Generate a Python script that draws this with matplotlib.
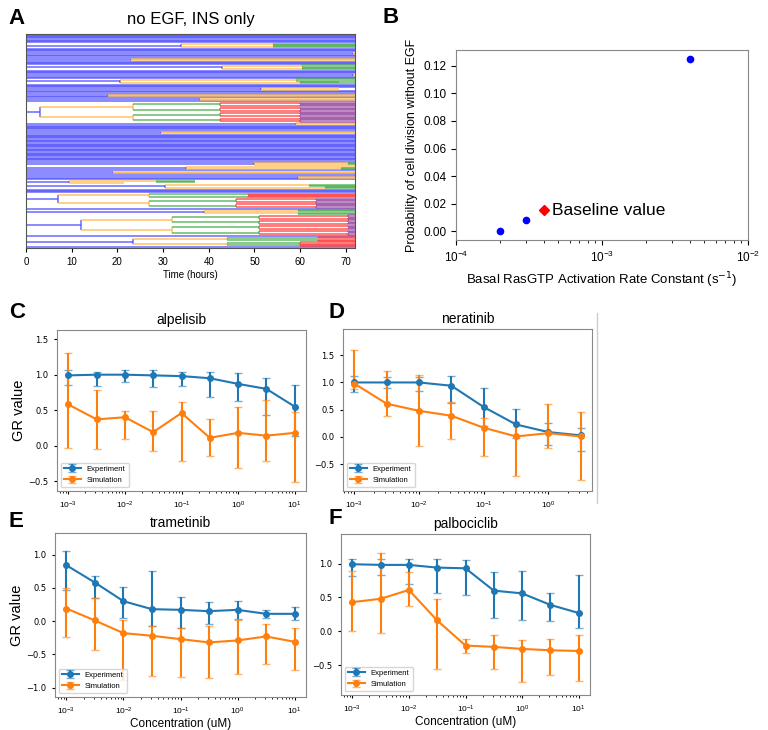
import numpy as np
import matplotlib
matplotlib.use('Agg')
import matplotlib.pyplot as plt
from matplotlib.collections import LineCollection
from matplotlib.lines import Line2D

plt.rcParams['font.family'] = ['Liberation Sans', 'DejaVu Sans']


def sym(t, child):
    # a division at time t into two identical daughter lineages
    return (t, child, child)


# ---- panel A: lineage trees (leaf = end time, tuple = (division time, daughter, daughter))
END = 72
lineages = [
    *[END] * 7,
    sym(34, sym(54, END)),
    END, END, END, sym(71.5, END), END, END, END,
    sym(23, END),
    END, END, END,
    sym(43, sym(60.5, END)),
    END, END, END, sym(71.5, END), END, END,
    (20.5, sym(59, END), (60, 68.5, END)),
    END, END, END, sym(51.5, 68.5), END, END, END,
    sym(18, END), END, sym(38, END), END,
    sym(3, sym(23.5, sym(42.5, sym(60, END)))),
    sym(59, END), *[END] * 5, sym(29.5, END), *[END] * 22,
    (50, sym(70.5, END), END),
    (35, END, sym(69, END)),
    END, sym(19, END), END, END, sym(59.5, END), END,
    (9.5, sym(28.5, 37), 21.5),
    (30.5, sym(62, END), sym(65.5, END)),
    END, END, END,
    (7, sym(27, sym(48.5, END)), sym(27, sym(46, sym(63.5, END)))),
    END,
    sym(39, sym(59.5, END)),
    sym(12, sym(32, sym(51, sym(70.5, END)))),
    END,
    (23.5, sym(44, sym(64, END)), sym(44, sym(60, END))),
    END,
]
gen_colors = ['#5050ff', '#ffb845', '#4cae4c', '#ff3c3c', '#9a4ea3']

# ---- panel B
rate = [2e-4, 3e-4, 4e-3]
prob = [0.0, 0.0077, 0.125]
base_rate = 4e-4
base_prob = 0.015

# ---- panels C-F
conc = [1e-3, 3.16e-3, 1e-2, 3.16e-2, 0.1, 0.316, 1.0, 3.16, 10.0]

alp_exp = [0.99, 1.00, 1.00, 0.99, 0.98, 0.95, 0.87, 0.80, 0.55]
alp_exp_lo = [0.86, 0.84, 0.89, 0.82, 0.84, 0.68, 0.63, 0.43, 0.13]
alp_exp_hi = [1.06, 1.04, 1.07, 1.07, 1.04, 1.04, 1.02, 0.96, 0.85]
alp_sim = [0.58, 0.37, 0.40, 0.19, 0.46, 0.11, 0.18, 0.14, 0.18]
alp_sim_lo = [-0.03, -0.05, 0.10, -0.08, -0.21, -0.14, -0.32, -0.22, -0.52]
alp_sim_hi = [1.31, 0.79, 0.49, 0.49, 0.62, 0.38, 0.54, 0.64, 0.47]

ner_exp = [1.00, 1.00, 1.00, 0.94, 0.55, 0.23, 0.09, 0.03]
ner_exp_lo = [0.82, 0.90, 0.85, 0.62, 0.20, -0.02, -0.15, -0.25]
ner_exp_hi = [1.12, 1.10, 1.10, 1.12, 0.90, 0.52, 0.26, 0.17]
ner_sim = [0.98, 0.61, 0.48, 0.39, 0.17, 0.01, 0.07, 0.01]
ner_sim_lo = [0.88, 0.38, -0.17, -0.03, -0.35, -0.72, -0.20, -0.79]
ner_sim_hi = [1.59, 1.21, 1.14, 0.64, 0.34, 0.28, 0.60, 0.45]

tra_exp = [0.84, 0.58, 0.30, 0.18, 0.17, 0.15, 0.17, 0.11, 0.11]
tra_exp_lo = [0.47, 0.35, 0.05, -0.07, -0.11, -0.05, 0.03, 0.04, 0.02]
tra_exp_hi = [1.06, 0.68, 0.51, 0.76, 0.36, 0.29, 0.30, 0.17, 0.22]
tra_sim = [0.19, 0.01, -0.18, -0.22, -0.27, -0.32, -0.29, -0.23, -0.31]
tra_sim_lo = [-0.24, -0.43, -0.88, -0.83, -0.84, -0.86, -0.80, -0.64, -0.73]
tra_sim_hi = [0.50, 0.35, 0.01, -0.07, -0.11, -0.08, 0.01, -0.05, -0.11]

pal_exp = [0.99, 0.98, 0.98, 0.94, 0.93, 0.60, 0.56, 0.39, 0.27]
pal_exp_lo = [0.81, 0.83, 0.70, 0.57, 0.53, 0.19, 0.16, 0.15, 0.05]
pal_exp_hi = [1.07, 1.07, 1.06, 1.07, 1.05, 0.87, 0.89, 0.56, 0.83]
pal_sim = [0.43, 0.48, 0.61, 0.16, -0.21, -0.23, -0.26, -0.28, -0.29]
pal_sim_lo = [0.01, -0.03, 0.38, -0.56, -0.32, -0.56, -0.75, -0.64, -0.74]
pal_sim_hi = [0.89, 1.15, 0.87, 0.48, -0.11, -0.06, -0.13, -0.11, -0.06]


def n_leaves(node):
    if not isinstance(node, tuple):
        return 1
    return n_leaves(node[1]) + n_leaves(node[2])


def place(node, top, birth, gen, segs):
    """Lay out one lineage, return the y of the node's line"""
    if not isinstance(node, tuple):
        y = top + 0.5
        segs[gen].append([(birth, y), (node, y)])
        return y
    t, a, b = node
    ya = place(a, top, t, gen + 1, segs)
    yb = place(b, top + n_leaves(a), t, gen + 1, segs)
    y = (ya + yb) / 2
    segs[gen].append([(birth, y), (t, y)])
    segs[gen].append([(t, ya), (t, yb)])
    return y


fig = plt.figure(figsize=(7.68, 7.3), dpi=100)
W, H = 768, 730


def axes_px(x0, y0, x1, y1):
    return fig.add_axes([x0 / W, 1 - y1 / H, (x1 - x0) / W, (y1 - y0) / H])


def letter(s, x, y):
    fig.text(x / W, 1 - y / H, s, fontsize=16, fontweight='bold', va='top', ha='left')


# ---------------- A
axA = axes_px(26, 34, 355, 248)
segs = [[] for _ in gen_colors]
top = 0
for lin in lineages:
    place(lin, top, 0, 0, segs)
    top += n_leaves(lin)
for g, col in enumerate(gen_colors):
    axA.add_collection(LineCollection(segs[g], colors=col, linewidths=1.3,
                                      alpha=0.72, zorder=2 + g))
axA.set_xlim(0, 72)
axA.set_ylim(top, 0)
axA.set_yticks([])
axA.set_xticks(range(0, 80, 10))
axA.tick_params(labelsize=7, length=3)
axA.set_xlabel('Time (hours)', fontsize=7, labelpad=2)
axA.set_title('no EGF, INS only', fontsize=12, pad=7)
for sp in axA.spines.values():
    sp.set_color('#555555')
letter('A', 8, 8)

# ---------------- B
axB = axes_px(456, 50, 748, 240)
axB.plot(rate, prob, 'o', color='blue', ms=4.5, ls='none')
axB.plot([base_rate], [base_prob], 'D', color='red', ms=5)
axB.annotate('Baseline value', (base_rate, base_prob), xytext=(6, 0),
             textcoords='offset points', va='center', fontsize=12.5)
axB.set_xscale('log')
axB.set_xlim(1e-4, 1e-2)
axB.set_ylim(-0.0065, 0.1316)
axB.set_yticks(np.arange(0, 0.13, 0.02))
axB.yaxis.set_major_formatter(plt.FormatStrFormatter('%.2f'))
axB.tick_params(labelsize=8.5)
axB.set_xlabel('Basal RasGTP Activation Rate Constant (s$^{-1}$)', fontsize=9.5)
axB.set_ylabel('Probability of cell division without EGF', fontsize=9)
for sp in axB.spines.values():
    sp.set_color('#888888')
letter('B', 383, 7)


# ---------------- C-F
def gr_panel(ax, title, x, e, elo, ehi, s, slo, shi, ylim, yticks):
    e, elo, ehi = np.array(e), np.array(elo), np.array(ehi)
    s, slo, shi = np.array(s), np.array(slo), np.array(shi)
    for m, lo, hi, lab, col in [(e, elo, ehi, 'Experiment', 'tab:blue'),
                                (s, slo, shi, 'Simulation', 'tab:orange')]:
        _, caps, bars = ax.errorbar(x, m, yerr=[m - lo, hi - m], marker='o', ms=4,
                                    lw=1.5, capsize=3, color=col, label=lab)
        for c in caps:
            c.set_alpha(0.6)
    ax.set_xscale('log')
    ax.set_ylim(*ylim)
    ax.set_yticks(yticks)
    ax.set_title(title, fontsize=10, pad=4)
    ax.tick_params(labelsize=6, length=2.5)
    ax.tick_params(which='minor', length=1.5)
    for lab in ax.get_yticklabels():
        lab.set_family('DejaVu Sans')
    ax.legend(loc='lower left', fontsize=5.5, handlelength=2.2)
    for sp in ax.spines.values():
        sp.set_color('#888888')


axC = axes_px(57, 330, 306, 491)
gr_panel(axC, 'alpelisib', conc, alp_exp, alp_exp_lo, alp_exp_hi,
         alp_sim, alp_sim_lo, alp_sim_hi, (-0.64, 1.63), [-0.5, 0, 0.5, 1.0, 1.5])
axC.set_ylabel('GR value', fontsize=10.5, labelpad=2)
letter('C', 9, 302)

axD = axes_px(343, 329, 592, 491)
gr_panel(axD, 'neratinib', conc[:8], ner_exp, ner_exp_lo, ner_exp_hi,
         ner_sim, ner_sim_lo, ner_sim_hi, (-0.99, 1.98), [-0.5, 0, 0.5, 1.0, 1.5])
letter('D', 329, 302)
fig.add_artist(Line2D([597 / W, 597 / W], [1 - 313 / H, 1 - 503 / H], color='#cccccc', lw=1))

axE = axes_px(55, 533, 306, 697)
gr_panel(axE, 'trametinib', conc, tra_exp, tra_exp_lo, tra_exp_hi,
         tra_sim, tra_sim_lo, tra_sim_hi, (-1.14, 1.325), [-1.0, -0.5, 0, 0.5, 1.0])
axE.set_ylabel('GR value', fontsize=10.5, labelpad=2)
axE.set_xlabel('Concentration (uM)', fontsize=8.5, labelpad=1)
letter('E', 9, 511)

axF = axes_px(341, 534, 590, 695)
gr_panel(axF, 'palbociclib', conc, pal_exp, pal_exp_lo, pal_exp_hi,
         pal_sim, pal_sim_lo, pal_sim_hi, (-0.94, 1.436), [-0.5, 0, 0.5, 1.0])
axF.set_xlabel('Concentration (uM)', fontsize=8.5, labelpad=1)
letter('F', 329, 508)

fig.savefig('out.png', dpi=100)
